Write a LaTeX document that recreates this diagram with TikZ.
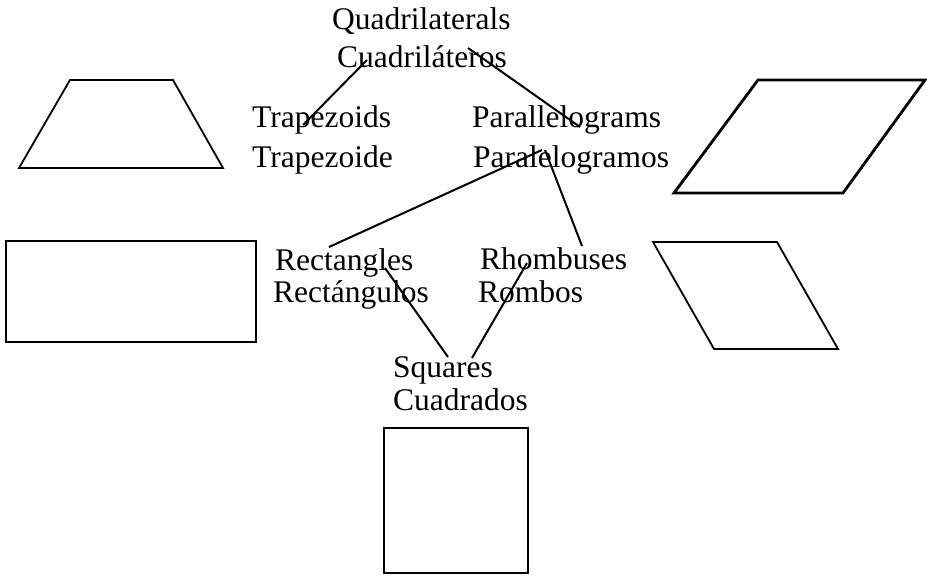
\documentclass[tikz,border=0pt]{standalone}
\usepackage{fontspec}
\setmainfont{Liberation Serif}
\usepackage{tikz}
\usetikzlibrary{calc, positioning}

\tikzset{
    lbl/.style={anchor=base west, inner sep=0pt, font=\fontsize{31.5}{38}\selectfont},
    link/.style={line width=2pt},
    figthin/.style={line width=1.8pt, line join=miter},
    figbold/.style={line width=2.8pt, line join=miter}
}

\begin{document}
\begin{tikzpicture}[x=1pt, y=-1pt]
    \useasboundingbox (0,0) rectangle (927,577);

    % 1. Nhãn song ngữ
    \node[lbl] (quad) at (332,30) {Quadrilaterals};
    \node[lbl] (cuad) at (337,68) {Cuadriláteros};
    \node[lbl] (trapE) at (252,128) {Trapezoids};
    \node[lbl] (trapS) at (252,168) {Trapezoide};
    \node[lbl] (parE) at (472,128) {Parallelograms};
    \node[lbl] (parS) at (473,168) {Paralelogramos};
    \node[lbl] (rectE) at (275,271) {Rectangles};
    \node[lbl] (rectS) at (273,303) {Rectángulos};
    \node[lbl] (rhoE) at (480,270) {Rhombuses};
    \node[lbl] (rhoS) at (478,303) {Rombos};
    \node[lbl] (sqE) at (393,378) {Squares};
    \node[lbl] (sqS) at (393,410) {Cuadrados};

    % 2. Các đầu mút của đường nối
    \coordinate (cuadL) at (367,60);
    \coordinate (cuadR) at (468,48);
    \coordinate (trapT) at (303,125);
    \coordinate (parT) at (580,127);
    \coordinate (parL) at (542,150);
    \coordinate (parR) at (545,150);
    \coordinate (rectT) at (329,247);
    \coordinate (rhoT) at (582,246);
    \coordinate (rectB) at (385,268);
    \coordinate (rhoB) at (527,263);
    \coordinate (sqL) at (448,357);
    \coordinate (sqR) at (472,358);

    % 3. Đường nối
    \draw[link] (cuadL) -- (trapT);
    \draw[link] (cuadR) -- (parT);
    \draw[link] (parL) -- (rectT);
    \draw[link] (parR) -- (rhoT);
    \draw[link] (rectB) -- (sqL);
    \draw[link] (rhoB) -- (sqR);

    % 4. Các hình minh họa
    \draw[figthin] (70,80) -- (173,80) -- (223,168) -- (19,168) -- cycle;
    \draw[figthin] (6,241) rectangle (256,342);
    \draw[figbold] (758,80) -- (925,80) -- (843,193) -- (674,193) -- cycle;
    \draw[figthin] (653,242) -- (777,242) -- (838,349) -- (714,349) -- cycle;
    \draw[figbold] (384,428) rectangle (528,573);

\end{tikzpicture}
\end{document}
